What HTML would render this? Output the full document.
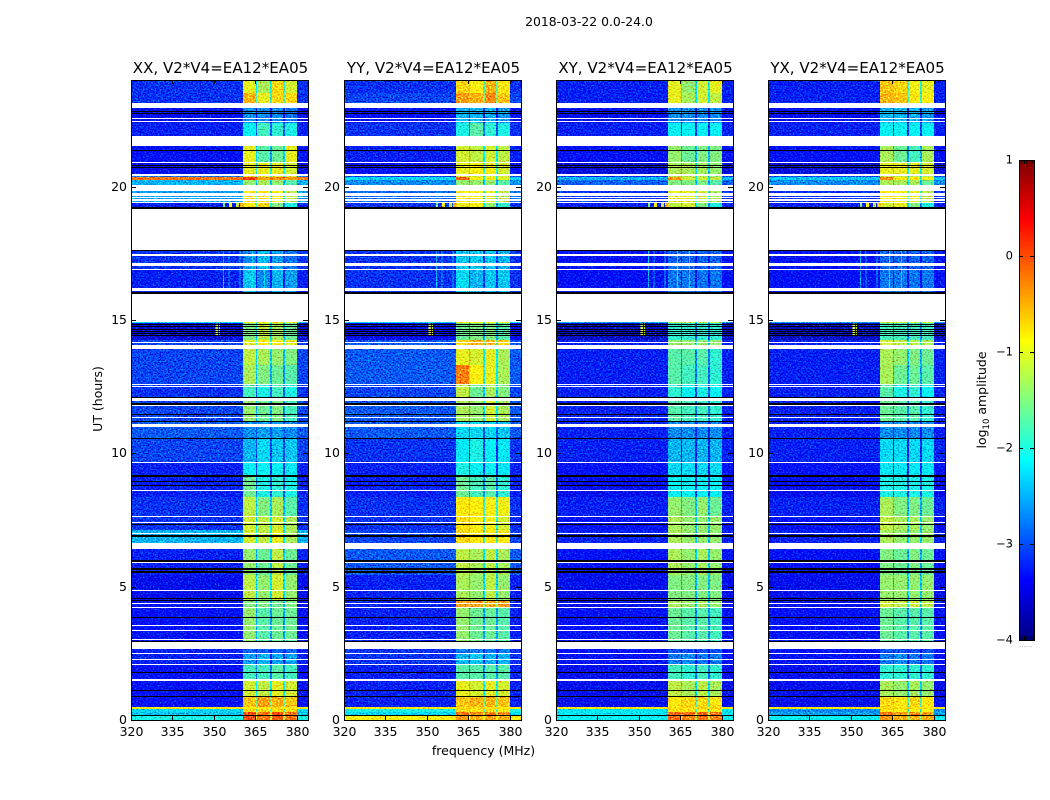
<!DOCTYPE html>
<html>
<head>
<meta charset="utf-8">
<title>2018-03-22 0.0-24.0</title>
<style>
html,body{margin:0;padding:0;background:#fff;}
svg{display:block;}
text{font-family:"DejaVu Sans","Liberation Sans",sans-serif;fill:#000;}
</style>
</head>
<body>
<svg id="fig" xmlns="http://www.w3.org/2000/svg" width="1050" height="800" viewBox="0 0 1050 800">
  <defs>
    <filter id="grain" filterUnits="userSpaceOnUse" x="0" y="0" width="1050" height="800" color-interpolation-filters="sRGB">
      <feTurbulence type="fractalNoise" baseFrequency="0.6 0.75" numOctaves="1" seed="7" result="n"/>
      <feColorMatrix in="n" type="matrix" values="0 0 0 0 0.5  1 0 0 0 0  0.6 0 0 0 0.2  0 0 0 0 1" result="m"/>
      <feComposite in="SourceGraphic" in2="m" operator="arithmetic" k1="0" k2="1" k3="1.6" k4="-0.8" result="c"/>
      <feComposite in="c" in2="SourceAlpha" operator="in"/>
    </filter>
    <linearGradient id="jetGradient" x1="0" y1="1" x2="0" y2="0"></linearGradient>
  </defs>
  <rect x="0" y="0" width="1050" height="800" fill="#fff"/>
  <text x="589" y="26" font-size="12.4" text-anchor="middle">2018-03-22 0.0-24.0</text>
  <text x="483.5" y="755" font-size="12.5" text-anchor="middle">frequency (MHz)</text>
  <text transform="translate(102 399) rotate(-90)" font-size="12.5" text-anchor="middle">UT (hours)</text>
  <text transform="translate(986 400) rotate(-90)" font-size="12.5" text-anchor="middle">log<tspan font-size="8.5" dy="3">10</tspan><tspan dy="-3"> amplitude</tspan></text>
  <g id="panels"></g>
  <g id="colorbar"></g>
</svg>
<script>
const panelNames = ['XX', 'YY', 'XY', 'YX'];
const baselineName = 'V2*V4=EA12*EA05';
const freqTicks = [320, 335, 350, 365, 380];
const utTicks = [0, 5, 10, 15, 20];
const colorbarTicks = [-4, -3, -2, -1, 0, 1];
const freqDomain = [320, 384];
const utDomain = [0, 24];
const ampDomain = [-4, 1];

/* channel spans in MHz: off-band, sub-band 1, gap, sub-band 2, gap, sub-band 3, gap, sub-band 4, off-band */
const freqEdges = [320, 360.6, 365.1, 365.7, 370.3, 370.9, 375.1, 375.7, 380.1, 384];

/* UT hours bounding each row of the tables below */
const timeEdges = [0, .15, .3, .41, .47, .9, 1.5, 2.06, 2.51, 2.93, 4.24, 4.5, 5.44, 6.45, 7.13, 7.65, 8.36, 9.15, 9.68, 10.58, 11.21, 12.11, 12.56, 13.31, 13.91, 14.25, 14.89, 14.96, 16.88, 19.2, 19.39, 20.03, 20.25, 20.36, 20.48, 20.89, 21.9, 22.39, 23.14, 23.51, 24];

/* log10 amplitude per row: [off-band, sub-band 1, 2, 3, 4] */
const xxLevels = [[-2.0,0,-.2,-.1,-.2],[-2.4,0,-.2,0,-.2],[-2.3,-.7,-.7,-.7,-.7],[-.8,-.8,-.8,-.8,-.8],[-3.35,-.6,-.4,-.5,-.6],[-3.35,-1.1,-1.2,-1,-1.1],[-3.35,-1.8,-1.8,-1.7,-1.8],[-3.25,-2.6,-2.5,-2.6,-2.6],[-3.25,-2.9,-2.9,-2.9,-2.9],[-3.35,-1.4,-1.7,-1.6,-1.6],[-3.35,-1.5,-1.5,-1.6,-1.5],[-3.45,-1.2,-1.4,-1.1,-1.4],[-3.25,-1.4,-1.6,-1.2,-1.6],[-2.5,-1.1,-1.2,-1,-1.3],[-3.15,-1.1,-1.2,-1.1,-1.3],[-3.15,-1.2,-1.5,-1.3,-1.7],[-3.25,-1.6,-2,-1.9,-2],[-3.25,-2.1,-2.1,-2.1,-2.2],[-3.05,-2.5,-2.3,-2.4,-2.4],[-2.95,-2.7,-2.6,-2.6,-2.7],[-3.05,-1.4,-1.6,-1.5,-1.8],[-3.15,-1.8,-2,-1.8,-2],[-3.05,-1.3,-1.5,-1.6,-1.7],[-3.05,-1.2,-1.3,-1.4,-1.5],[-3.05,-1,-.9,-.9,-1],[-3.55,-1.5,-1.2,-1.3,-1.6],[-2.3,-.9,-.8,-.8,-.9],[-3.25,-2.4,-2.7,-2.5,-2.6],[-3.15,-2.7,-2.5,-2.6,-2.8],[-3.25,-.8,-.7,-1.5,-2],[-2.6,-.8,-.8,-.9,-1.2],[-2.5,-1.4,-1.3,-1.4,-1.7],[-.2,.1,-.4,-.3,-.4],[-2.8,-1,-1,-1,-1.1],[-3.45,-1,-1,-1,-1.1],[-3.35,-1,-1.7,-1.6,-1],[-3.25,-2.1,-1.8,-1.9,-2],[-3.45,-2.7,-2.7,-2.7,-2.8],[-3.15,-.5,-1,-.7,-.7],[-3.15,-1,-1.3,-.7,-1.1]];
const yyLevels = [[-.9,-.4,-.5,-.4,-.5],[-2.3,-.2,-.3,-.2,-.3],[-2,-.7,-.8,-.7,-.8],[-.8,-.8,-.8,-.8,-.8],[-3.25,-.6,-.5,-.5,-.6],[-3.25,-1,-1.1,-1,-1.1],[-3.25,-1.7,-1.7,-1.7,-1.7],[-3.15,-2.5,-2.4,-2.5,-2.5],[-3.15,-2.8,-2.8,-2.8,-2.8],[-3.25,-1.4,-1.6,-1.6,-1.7],[-3.25,-.4,-.4,-.5,-.4],[-3.25,-1.3,-1.4,-1.2,-1.4],[-2.95,-1.2,-1.3,-1.2,-1.3],[-3.05,-.7,-.8,-.8,-.9],[-3.15,-.75,-.9,-.9,-1.1],[-3.15,-.8,-.85,-.9,-.95],[-3.25,-1.6,-1.8,-1.7,-1.9],[-3.25,-2,-2.1,-2.1,-2.2],[-3.15,-2.2,-2,-2.1,-2.2],[-2.95,-2.3,-2.3,-2.3,-2.4],[-2.95,-1.3,-1.4,-1.1,-1.3],[-3.05,-1.2,-1.6,-1.3,-1.5],[-2.95,-.25,-.9,-1,-1.3],[-2.95,-1,-1.1,-1,-1.3],[-2.95,-.7,-.5,-.5,-.7],[-3.45,-1.6,-1.5,-1.5,-1.7],[-2.3,-.9,-.9,-.9,-1],[-3.15,-2.3,-2.5,-2.4,-2.4],[-3.15,-2.4,-2.4,-2.4,-2.5],[-3.15,-1,-.9,-1.4,-1.9],[-2.85,-.9,-.9,-1,-1.2],[-2.7,-1.4,-1.4,-1.4,-1.7],[-2.3,-.1,-.9,-.9,-1],[-3.05,-1.1,-1.1,-1.1,-1.2],[-3.35,-1,-.9,-.9,-1.1],[-3.25,-1.1,-1.2,-1.1,-1.2],[-3.15,-2,-1.7,-1.9,-2],[-3.35,-2.5,-2.5,-2.5,-2.6],[-3.05,-.4,-.5,-.3,-.6],[-3.15,-.7,-.9,-.5,-.8]];
const xyLevels = [[-2.1,-.15,-.25,-.2,-.25],[-2.2,-.1,-.15,-.1,-.2],[-2.2,-.8,-.8,-.8,-.8],[-.8,-.7,-.7,-.7,-.7],[-3.45,-.8,-.7,-.7,-.8],[-3.45,-1.2,-1.3,-1.2,-1.3],[-3.45,-1.8,-1.9,-1.8,-1.9],[-3.35,-2.8,-2.7,-2.8,-2.8],[-3.35,-3,-3,-3,-3],[-3.35,-1.6,-1.7,-1.7,-1.8],[-3.45,-1.3,-1.4,-1.3,-1.4],[-3.45,-1.5,-1.5,-1.5,-1.5],[-3.35,-1.3,-1.4,-1.3,-1.4],[-3.25,-1.3,-1.4,-1.4,-1.4],[-3.35,-1.3,-1.4,-1.4,-1.4],[-3.25,-1.4,-1.5,-1.4,-1.6],[-3.45,-2.1,-2.1,-2.1,-2.1],[-3.35,-2.3,-2.3,-2.3,-2.3],[-3.25,-2.5,-2.5,-2.5,-2.5],[-3.25,-2.7,-2.7,-2.7,-2.7],[-3.25,-1.7,-1.8,-1.8,-1.9],[-3.25,-1.9,-2.1,-2,-2.1],[-3.25,-1.7,-1.8,-1.8,-1.9],[-3.25,-1.7,-1.7,-1.7,-1.9],[-3.25,-1.4,-1.4,-1.4,-1.4],[-3.65,-1.9,-1.9,-1.9,-1.9],[-2.6,-1.2,-1.2,-1.2,-1.2],[-3.35,-2.8,-2.8,-2.8,-2.8],[-3.35,-2.9,-2.9,-2.9,-2.9],[-3.25,-1.2,-1.1,-1.5,-2],[-3.15,-1,-1,-1.1,-1.3],[-2.9,-1.5,-1.5,-1.5,-1.7],[-2.5,-.4,-1.1,-1.1,-1.2],[-3.15,-1.3,-1.3,-1.3,-1.4],[-3.55,-1.3,-1.3,-1.3,-1.4],[-3.35,-1.4,-1.6,-1.5,-1.5],[-3.25,-2.1,-2.1,-2.1,-2.1],[-3.45,-2.7,-2.7,-2.7,-2.7],[-3.25,-1,-1.3,-1.1,-1.2],[-3.25,-1,-1.4,-1.1,-1]];
const yxLevels = [[-2.1,-.4,-.5,-.5,-.5],[-2.6,-.2,-.4,-.3,-.4],[-2.7,-.8,-.9,-.9,-.9],[-.8,-.8,-.8,-.8,-.8],[-3.45,-.7,-.8,-.7,-.8],[-3.45,-1.3,-1.4,-1.3,-1.4],[-3.45,-1.9,-1.9,-1.9,-1.9],[-3.35,-2.8,-2.7,-2.8,-2.8],[-3.35,-3,-3,-3,-3],[-3.35,-1.6,-1.7,-1.7,-1.7],[-3.45,-1.1,-1.2,-1.1,-1.2],[-3.45,-1.4,-1.4,-1.4,-1.4],[-3.35,-1.5,-1.6,-1.5,-1.6],[-3.25,-1.3,-1.4,-1.4,-1.4],[-3.35,-1.2,-1.3,-1.3,-1.4],[-3.25,-1.3,-1.5,-1.5,-1.6],[-3.45,-2,-2,-2,-2],[-3.35,-2.2,-2.2,-2.2,-2.2],[-3.25,-2.3,-2.3,-2.3,-2.3],[-3.25,-2.7,-2.7,-2.7,-2.7],[-3.25,-1.6,-1.7,-1.7,-1.9],[-3.25,-1.7,-2,-1.9,-2.1],[-3.25,-1.3,-1.6,-1.6,-1.7],[-3.25,-1.3,-1.4,-1.5,-1.6],[-3.25,-1.1,-1.2,-1.2,-1.3],[-3.65,-1.8,-1.8,-1.8,-1.8],[-2.6,-1.1,-1.1,-1.1,-1.1],[-3.35,-2.8,-2.8,-2.8,-2.8],[-3.35,-2.9,-2.9,-2.9,-2.9],[-3.25,-1.1,-1,-1.5,-2],[-3.15,-.9,-.9,-1,-1.2],[-2.7,-1.3,-1.3,-1.3,-1.6],[-2.4,-.3,-.8,-.8,-.9],[-3.05,-1.2,-1.2,-1.2,-1.3],[-3.55,-1,-1,-1,-1.1],[-3.35,-1.3,-1.6,-1.8,-1.3],[-3.25,-2.1,-2.1,-2.1,-2.1],[-3.45,-2.5,-2.5,-2.5,-2.6],[-3.25,-.5,-.6,-.8,-.9],[-3.25,-.6,-.7,-.9,-1]];
const panelLevels = [xxLevels, yyLevels, xyLevels, yxLevels];

/* narrow interference: [UT start, UT end, MHz start, MHz end, log10 amplitude] */
const rfiSpots = [[14.42,14.87,350.6,351.4,-1],[14.42,14.87,351.8,352.2,-1.2],[19.22,19.39,353.2,354,-1.5],[19.22,19.39,355.5,356.5,-.9],[19.22,19.39,358,359,-1.2],[19.22,19.39,359.5,360.6,-.5],[16.2,17.59,353.2,353.5,-2.5],[16.2,17.59,355.3,355.6,-2.6],[16.2,17.59,359.2,359.5,-2.5],[16.2,17.59,363.8,364.1,-2.2],[16.2,17.59,368,368.3,-2.3]];

/* flagged (blank) UT ranges */
const blankRanges = [[1.48,1.52],[2.06,2.1],[2.26,2.29],[2.48,2.51],[2.66,2.93],[3,3.04],[3.32,3.38],[3.53,3.56],[4.2,4.24],[4.35,4.39],[4.84,4.88],[5.87,5.91],[6.43,6.64],[6.98,7.01],[7.39,7.43],[7.61,7.65],[8.59,8.63],[9.64,9.68],[10.97,11.1],[11.34,11.38],[11.78,11.83],[11.96,12.09],[12.51,12.54],[12.56,12.6],[13.91,14.06],[14.14,14.18],[14.94,15.96],[16.07,16.2],[16.89,16.93],[17.03,17.06],[17.08,17.14],[17.4,17.49],[17.59,19.2],[19.39,19.44],[19.46,19.52],[19.56,19.61],[19.65,19.78],[19.84,20.06],[20.4,20.48],[20.87,20.93],[21.53,21.9],[22.44,22.48],[22.54,22.59],[22.95,23.14]];
/* zero-amplitude (black) UT ranges */
const zeroRanges = [[.15,.19],[.86,.9],[1.09,1.13],[1.76,1.8],[2.93,2.96],[3.83,3.86],[4.46,4.5],[4.56,4.59],[5.53,5.57],[5.62,5.7],[5.94,6],[6.88,6.92],[7.31,7.35],[8.78,8.81],[8.93,8.96],[9.13,9.17],[10.54,10.58],[11.16,11.21],[11.46,11.49],[11.83,11.87],[12.09,12.13],[14.42,14.44],[14.49,14.51],[14.57,14.59],[14.66,14.68],[14.76,14.78],[14.83,14.85],[15.96,16.05],[17.59,17.61],[19.18,19.22],[20.7,20.74],[20.78,20.81],[21.34,21.38],[22.73,22.76],[22.8,22.84]];

const NS = 'http://www.w3.org/2000/svg';
const panelLefts = [131, 344, 556, 768];
const panelW = 177, plotTop = 80, plotBottom = 720;

function node(tag, attrs, parent) {
  const el = document.createElementNS(NS, tag);
  for (const k in attrs) el.setAttribute(k, attrs[k]);
  parent.appendChild(el);
  return el;
}
function xScale(f, left) {
  return left + (f - freqDomain[0]) / (freqDomain[1] - freqDomain[0]) * panelW;
}
function yScale(h) {
  return plotBottom - (h - utDomain[0]) / (utDomain[1] - utDomain[0]) * (plotBottom - plotTop);
}
function ampScale(v) {
  return 640 - (v - ampDomain[0]) / (ampDomain[1] - ampDomain[0]) * 480;
}
function jet(v) {
  const t = Math.max(0, Math.min(1, (v - ampDomain[0]) / (ampDomain[1] - ampDomain[0])));
  const ch = c => Math.round(255 * Math.max(0, Math.min(1, 1.5 - Math.abs(4 * t - c))));
  return 'rgb(' + ch(3) + ',' + ch(2) + ',' + ch(1) + ')';
}
/* maps a row's table entry to the value of one of the nine channel spans */
function channelValue(row, i) {
  if (i === 0 || i === 8) return row[0];
  if (i % 2 === 1) return row[(i + 1) / 2];
  return Math.max(row[0], (row[i / 2] + row[i / 2 + 1]) / 2 - 1);
}

const panelsRoot = document.getElementById('panels');
panelNames.forEach(function (pol, p) {
  const left = panelLefts[p];
  const levels = panelLevels[p];
  const g = node('g', {}, panelsRoot);
  
  

  const cells = node('g', { filter: 'url(#grain)', 'shape-rendering': 'crispEdges' }, g);
  
  
  levels.forEach(function (row, r) {
    const y0 = Math.round(yScale(timeEdges[r + 1]));
    const y1 = Math.round(yScale(timeEdges[r]));
    for (let c = 0; c < freqEdges.length - 1; c++) {
      const x0 = Math.round(xScale(freqEdges[c], left));
      const x1 = Math.round(xScale(freqEdges[c + 1], left));
      const cell = node('rect', { x: x0, y: y0, width: x1 - x0, height: y1 - y0, fill: jet(channelValue(row, c)) }, cells);
      
      
    }
  });
  rfiSpots.forEach(function (s) {
    const x0 = xScale(s[2], left);
    const spot = node('rect', { x: x0, y: yScale(s[1]), width: Math.max(1, xScale(s[3], left) - x0), height: yScale(s[0]) - yScale(s[1]), fill: jet(s[4]) }, cells);
    
    
  });

  const flags = node('g', { 'shape-rendering': 'crispEdges' }, g);
  
  
  blankRanges.forEach(function (b) {
    const y0 = Math.round(yScale(b[1]));
    const h = Math.max(1, Math.round(yScale(b[0])) - y0);
    const band = node('rect', { x: left, y: y0, width: panelW, height: h, fill: '#fff' }, flags);
    
    
  });
  zeroRanges.forEach(function (b) {
    const y0 = Math.round(yScale(b[1]));
    const h = Math.max(1, Math.round(yScale(b[0])) - y0);
    const band = node('rect', { x: left, y: y0, width: panelW, height: h, fill: '#000' }, flags);
    
    
  });

  const frame = node('rect', { x: left + .5, y: plotTop + .5, width: panelW, height: plotBottom - plotTop, fill: 'none', stroke: '#000', 'stroke-width': 1 }, g);
  
  

  const title = node('text', { x: left + panelW / 2 + 1, y: 73, 'font-size': 15.05, 'text-anchor': 'middle' }, g);
  title.textContent = pol + ', ' + baselineName;
  
  

  freqTicks.forEach(function (f) {
    const x = Math.round(xScale(f, left)) + .5;
    const tb = node('line', { x1: x, x2: x, y1: plotBottom, y2: plotBottom - 4, stroke: '#000' }, g);
    
    
    const tt = node('line', { x1: x, x2: x, y1: plotTop, y2: plotTop + 4, stroke: '#000' }, g);
    
    
    const lab = node('text', { x: x, y: 736, 'font-size': 12.5, 'text-anchor': 'middle' }, g);
    lab.textContent = f;
    
    
  });
  utTicks.forEach(function (h) {
    const y = Math.round(yScale(h)) + .5;
    const tl = node('line', { x1: left, x2: left + 5, y1: y, y2: y, stroke: '#000' }, g);
    
    
    const tr = node('line', { x1: left + panelW, x2: left + panelW - 5, y1: y, y2: y, stroke: '#000' }, g);
    
    
    const lab = node('text', { x: left - 4, y: y + 3.5, 'font-size': 12.5, 'text-anchor': 'end' }, g);
    lab.textContent = h;
    
    
  });
});

/* colorbar */
const grad = document.getElementById('jetGradient');
for (let i = 0; i <= 40; i++) {
  const v = ampDomain[0] + (ampDomain[1] - ampDomain[0]) * i / 40;
  node('stop', { offset: (i / 40 * 100) + '%', 'stop-color': jet(v) }, grad);
}
const cb = document.getElementById('colorbar');
const cbX = 1019, cbW = 15;
const cbRamp = node('rect', { x: cbX + .5, y: 160.5, width: cbW, height: 480, fill: 'url(#jetGradient)', stroke: '#000' }, cb);


colorbarTicks.forEach(function (v) {
  const y = Math.round(ampScale(v)) + .5;
  const a = node('line', { x1: cbX, x2: cbX + 4, y1: y, y2: y, stroke: '#000' }, cb);
  
  
  const b = node('line', { x1: cbX + cbW, x2: cbX + cbW - 4, y1: y, y2: y, stroke: '#000' }, cb);
  
  
  const lab = node('text', { x: 1013, y: y + 3, 'font-size': 11.5, 'text-anchor': 'end' }, cb);
  lab.textContent = String(v).replace('-', '\u2212');
  
  
});
for (let i = 1; i <= 5; i++) {
  const x = cbX + i * 2.5 + .5;
  const t = node('line', { x1: x, x2: x, y1: 160, y2: 164, stroke: '#000' }, cb);
  
  
  const u = node('line', { x1: x, x2: x, y1: 640, y2: 636, stroke: '#000' }, cb);
  
  
}
const dots = node('text', { x: 1026, y: 647, 'font-size': 6, 'text-anchor': 'middle', style: 'fill:#888;letter-spacing:.4px' }, cb);
dots.textContent = '......';


</script>
</body>
</html>
